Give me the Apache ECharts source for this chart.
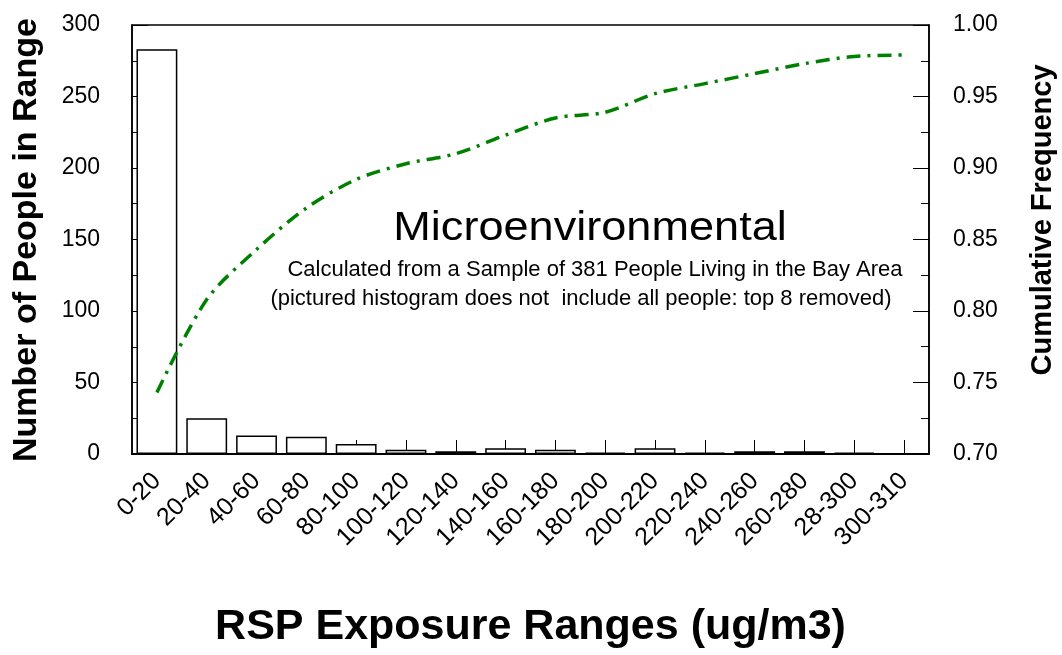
<!DOCTYPE html>
<html>
<head>
<meta charset="utf-8">
<script src="https://cdn.jsdelivr.net/npm/echarts@6/dist/echarts.min.js"></script>
<style>
  html, body { margin: 0; padding: 0; background: #fff; }
  #chart { width: 1062px; height: 655px; }
</style>
</head>
<body>
<div id="chart"></div>
<script>
// exposure ranges (x categories)
const categories = ['0-20', '20-40', '40-60', '60-80', '80-100', '100-120', '120-140', '140-160',
  '160-180', '180-200', '200-220', '220-240', '240-260', '260-280', '28-300', '300-310'];
// number of people per range (left axis)
const peopleCounts = [283, 25, 13, 12, 7, 3, 2, 4, 3, 1, 4, 1, 2, 2, 1, 0];
// cumulative frequency (right axis)
const cumulativeFreq = [0.743, 0.808, 0.843, 0.872, 0.892, 0.903, 0.910, 0.923,
  0.935, 0.939, 0.952, 0.959, 0.966, 0.973, 0.978, 0.979];

const FONT = 'Liberation Sans, Arial, sans-serif';

const chart = echarts.init(document.getElementById('chart'));

const option = {
  animation: false,
  backgroundColor: '#fff',
  grid: {
    left: 132, right: 133, top: 25, bottom: 201,
    show: true, borderColor: '#000', borderWidth: 1.5,
    outerBoundsMode: 'none'
  },
  xAxis: {
    type: 'category',
    data: categories,
    boundaryGap: true,
    name: 'RSP Exposure Ranges (ug/m3)',
    nameLocation: 'middle',
    nameGap: 152,
    nameTextStyle: { fontFamily: FONT, fontSize: 43, fontWeight: 'bold', color: '#000' },
    axisLine: { lineStyle: { color: '#000', width: 2 } },
    axisTick: { show: true, inside: true, length: 14, alignWithLabel: true, lineStyle: { color: '#000', width: 1 } },
    axisLabel: { rotate: 45, interval: 0, margin: 23, fontFamily: FONT, fontSize: 25, color: '#000' },
    splitLine: { show: false }
  },
  yAxis: [{
    type: 'value',
    min: 0, max: 300, interval: 50,
    axisLine: { show: true, lineStyle: { color: '#000', width: 1.5 } },
    axisTick: { show: true, inside: true, length: 16, lineStyle: { color: '#000', width: 1 } },
    minorTick: { show: true, splitNumber: 2, length: 8, lineStyle: { color: '#000', width: 1 } },
    axisLabel: { margin: 32, fontFamily: FONT, fontSize: 23, color: '#000' },
    splitLine: { show: false }
  }, {
    type: 'value',
    position: 'right',
    min: 0.70, max: 1.00, interval: 0.05,
    axisLine: { show: true, lineStyle: { color: '#000', width: 1.5 } },
    axisTick: { show: true, inside: true, length: 16, lineStyle: { color: '#000', width: 1 } },
    minorTick: { show: true, splitNumber: 2, length: 8, lineStyle: { color: '#000', width: 1 } },
    axisLabel: {
      margin: 24, fontFamily: FONT, fontSize: 23, color: '#000',
      formatter: v => v.toFixed(2)
    },
    splitLine: { show: false }
  }],
  graphic: [
    {
      type: 'text', x: 27, y: 240, rotation: Math.PI / 2,
      style: { text: 'Number of People in Range', font: 'bold 34px ' + FONT, fill: '#000', align: 'center', verticalAlign: 'middle' }
    },
    {
      type: 'text', x: 1043, y: 220, rotation: Math.PI / 2,
      style: { text: 'Cumulative Frequency', font: 'bold 29px ' + FONT, fill: '#000', align: 'center', verticalAlign: 'middle' }
    },
    {
      type: 'text', x: 590, y: 229, scaleX: 1.1,
      style: { text: 'Microenvironmental', font: '41px ' + FONT, fill: '#000', align: 'center', verticalAlign: 'middle' }
    },
    {
      type: 'text', x: 595, y: 270,
      style: { text: 'Calculated from a Sample of 381 People Living in the Bay Area', font: '22px ' + FONT, fill: '#000', align: 'center', verticalAlign: 'middle' }
    },
    {
      type: 'text', x: 581, y: 299,
      style: { text: '(pictured histogram does not  include all people: top 8 removed)', font: '22px ' + FONT, fill: '#000', align: 'center', verticalAlign: 'middle' }
    }
  ],
  series: [{
    type: 'bar',
    data: peopleCounts,
    yAxisIndex: 0,
    barWidth: '82%',
    itemStyle: { color: '#fff', borderColor: '#000', borderWidth: 1.5 }
  }, {
    type: 'line',
    data: cumulativeFreq,
    yAxisIndex: 1,
    smooth: 0.3,
    symbol: 'none',
    lineStyle: { color: '#008000', width: 3.5, type: [14, 7, 3, 7], cap: 'butt' },
    z: 3
  }]
};

chart.setOption(option);
</script>
</body>
</html>
